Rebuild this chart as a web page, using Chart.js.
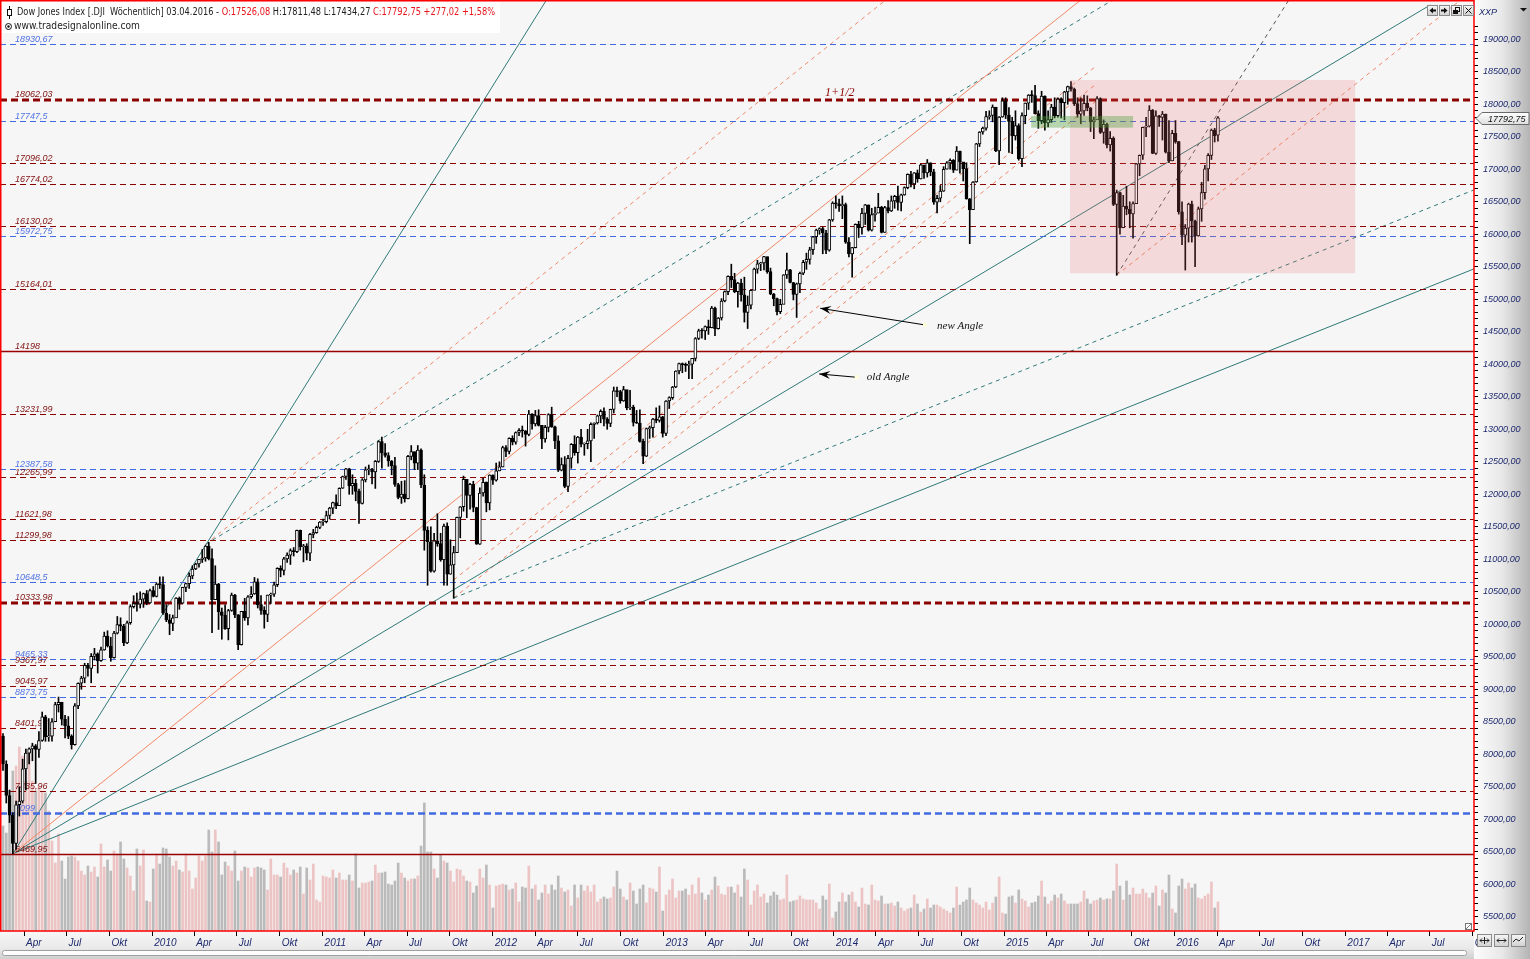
<!DOCTYPE html>
<html>
<head>
<meta charset="utf-8">
<title>Dow Jones Index weekly</title>
<script src="https://cdn.jsdelivr.net/npm/chart.js@4.4.1/dist/chart.umd.min.js"></script>
<style>
  html, body { margin: 0; padding: 0; background: #ededed; }
  canvas { display: block; }
</style>
</head>
<body>
<canvas id="djiChart" width="1530" height="959"></canvas>
<script>
// weekly bars, each one dated on the Sunday that closes its week
const firstWeek = '2009-02-15';

const weekOpen = [
  8280,7850,7366,7063,6627,7224,7278,7776,8018,8083,8131,8076,8212,8575,8268,8278,8500,8764,8799,8540,8438,8280,8146,8744,9093,9172,9370,9321,9505,9544,9441,9605,9820,9666,9488,9865,9996,9972,9713,10023,10271,10318,10310,10388,10471,10329,
  10520,10428,10618,10610,10173,10067,10012,10099,10402,10325,10567,10625,10742,10850,10927,10998,11019,11204,11009,10380,10620,10193,10137,9932,10212,10450,10144,9686,10198,10098,10424,10466,10653,10303,10213,10150,10448,10462,10608,10860,10830,11006,11063,11133,11118,11445,11192,11204,11092,11382,11410,11491,11573,
  11578,11674,11787,11871,11823,12092,12273,12391,12130,12170,12044,11859,12221,12377,12380,12342,12506,12811,12638,12596,12512,12441,12151,11952,12004,11934,12582,12657,12479,12681,12143,11445,11270,10817,11285,11240,10993,11510,10772,10913,11103,11644,11808,12231,11983,12153,11796,11231,12019,12184,11866,12294,
  12218,12360,12422,12720,12660,12862,12801,12950,12983,12978,12922,13232,13081,13212,13060,12850,13029,13228,13038,12821,12369,12455,12119,12554,12767,12640,12880,12772,12777,12822,13075,13096,13207,13275,13157,13090,13306,13593,13579,13437,13610,13328,13343,13107,13093,12815,12588,13010,13026,13155,13135,13190,
  12938,13435,13488,13650,13896,14009,13993,13982,14001,14090,14397,14515,14512,14579,14565,14865,14548,14712,14974,15118,15354,15303,15116,15248,15070,14799,14910,15136,15464,15544,15559,15658,15425,15081,15010,14810,14922,15376,15452,15258,15073,15237,15400,15570,15615,15762,15962,16065,16086,16020,15755,16221,
  16479,16469,16437,16458,15879,15699,15794,16154,16103,16322,16453,16065,16303,16323,16413,16027,16409,16361,16513,16583,16491,16606,16717,16924,16776,16947,16851,17068,16944,17100,16961,16493,16554,16663,17001,17098,17138,16988,17280,17113,17009,16544,16380,16805,17391,17573,17634,17810,17828,17958,17281,17805,
  18053,17833,17737,17512,17673,17165,17825,18019,18140,18133,17857,17749,18128,17713,17763,17958,17826,18080,18024,18191,18272,18232,18010,17849,17898,18016,17947,17730,17760,18086,17569,17690,17373,17477,16460,16643,16102,16433,16385,16315,16472,17084,17216,17647,17664,17910,17245,17824,17798,17848,17265,17128,17552,
  17425,16347,15988,16094,16466,16205,15974,16392,16640,17007,17213,17602,17526
];
const weekHigh = [
  8320,7900,7450,7100,7280,7500,7925,8080,8100,8170,8150,8350,8650,8600,8550,8550,8800,8880,8800,8600,8580,8300,8780,9100,9200,9400,9400,9550,9630,9560,9650,9880,9900,9800,9890,10120,10100,10000,10050,10300,10440,10480,10500,10480,10520,10540,
  10580,10640,10730,10730,10300,10150,10140,10410,10420,10570,10630,10790,10900,10940,11000,11150,11210,11260,11160,10900,10630,10250,10300,10230,10480,10460,10150,10200,10400,10440,10580,10720,10700,10440,10270,10450,10480,10650,10870,10900,11030,11100,11160,11180,11450,11450,11230,11240,11400,11460,11510,11580,11620,
  11740,11800,11880,11990,12100,12280,12400,12400,12300,12230,12080,12240,12420,12450,12400,12520,12820,12880,12780,12640,12520,12570,12170,12200,12210,12600,12750,12650,12750,12700,12300,11500,11500,11400,11700,11400,11540,11560,11300,11200,11650,11810,12280,12230,12170,12200,11800,12100,12250,12190,12300,12300,
  12480,12500,12740,12750,12870,12900,12960,13010,13050,12980,13290,13240,13290,13300,13060,13060,13240,13340,13050,12900,12560,12580,12600,12780,12900,12890,13000,12790,13000,13100,13100,13220,13300,13330,13180,13310,13650,13650,13600,13660,13600,13600,13370,13290,13300,12850,13020,13050,13170,13330,13360,13200,
  13440,13500,13660,13900,14020,14020,14020,14050,14090,14410,14540,14550,14590,14680,14890,14880,14720,15010,15130,15360,15540,15400,15260,15310,15340,15050,15140,15480,15600,15570,15660,15650,15480,15090,15020,15000,15380,15710,15460,15260,15250,15420,15600,15710,15800,15970,16080,16100,16110,16060,16230,16500,
  16590,16540,16590,16480,15950,15800,16160,16200,16400,16460,16450,16400,16420,16630,16430,16430,16520,16590,16600,16740,16620,16730,16930,16970,16950,16990,17080,17060,17150,17100,17000,16600,16750,17040,17120,17160,17150,17350,17280,17100,17100,16550,16810,17400,17580,17650,17890,17900,17990,17950,17810,18100,
  18100,17950,17800,17900,17700,17870,18020,18150,18210,18290,17900,18200,18130,17900,18000,18100,18100,18100,18200,18280,18350,18250,18100,18100,18140,18130,17950,17800,18120,18100,17760,17710,17580,17500,16680,16650,16600,16740,16500,16500,17090,17220,17650,17800,17980,17920,17900,17830,17890,17850,17750,17600,17750,
  17430,16500,16150,16480,16510,16220,16420,16800,17060,17240,17620,17630,17811
];
const weekLow = [
  7750,7250,6950,6470,6540,7050,7250,7450,7850,7900,7550,7950,8200,8200,8200,8200,8500,8650,8450,8250,8240,8080,8140,8700,9000,9100,9200,9100,9450,9250,9430,9600,9650,9430,9480,9850,9900,9670,9700,10000,10250,10200,10250,10260,10300,10320,
  10420,10420,10550,10150,10040,9840,9900,10100,10230,10320,10500,10550,10700,10840,10880,10950,10970,10990,9870,10380,9920,9770,9920,9760,10200,10100,9610,9680,10060,9990,10400,10460,10250,10150,9940,10040,10320,10430,10580,10730,10760,10950,10920,11050,11100,11140,10960,10990,10980,11330,11400,11470,11520,
  11560,11620,11700,11780,11830,12090,12230,12000,12000,11900,11550,11850,12190,12300,12160,12090,12490,12400,12570,12430,12300,12120,11930,11860,11880,11930,12530,12380,12380,12100,11140,10600,10800,10800,11200,10970,10600,10600,10770,10400,11100,11330,11740,11640,11770,11730,11230,11230,11970,11730,11760,12150,
  12200,12360,12420,12580,12620,12760,12770,12900,12880,12740,12900,13000,13050,13050,12700,12800,12960,13030,12700,12350,12360,12100,12040,12400,12600,12480,12730,12600,12700,12500,12860,13080,13100,13050,13000,13040,13250,13500,13400,13430,13300,13300,13050,13090,12800,12470,12580,12860,12880,13100,13110,12880,
  12900,13320,13460,13640,13850,13870,13890,13780,13780,14050,14380,14400,14380,14460,14560,14440,14540,14680,14960,15070,15180,15100,14880,14970,14650,14550,14850,15150,15400,15440,15450,15400,15070,14900,14760,14780,14930,15320,15250,14990,14720,15100,15380,15460,15540,15690,15860,16000,15700,15700,15740,16200,
  16400,16350,16240,15860,15650,15340,15790,15950,16000,16150,16050,16050,16200,16330,16020,16030,16330,16350,16400,16370,16360,16600,16700,16730,16700,16800,16850,16860,16880,16900,16460,16330,16500,16660,17000,17000,16950,16990,16940,16820,16540,15855,16380,16800,17350,17540,17600,17770,17730,17270,17070,17800,
  17780,17260,17240,17450,17140,17040,17700,17920,18030,17850,17630,17700,17600,17650,17720,17790,17800,17790,17760,18000,18200,17980,17800,17700,17830,17900,17580,17470,17790,17550,17400,17330,17280,16440,15370,16000,16100,16300,16100,15940,16480,16900,17150,17500,17650,17240,17230,17660,17450,17250,17100,17130,17400,
  16310,15840,15450,15880,15880,15500,15970,16200,16540,16820,17150,17420,17434
];
const weekClose = [
  7850,7366,7063,6627,7224,7278,7776,8018,8083,8131,8076,8212,8575,8268,8278,8500,8764,8799,8540,8438,8280,8146,8744,9093,9172,9370,9321,9505,9544,9441,9605,9820,9666,9488,9865,9996,9972,9713,10023,10271,10318,10310,10388,10471,10329,10520,
  10428,10618,10610,10173,10067,10012,10099,10402,10325,10567,10625,10742,10850,10927,10998,11019,11204,11009,10380,10620,10193,10137,9932,10212,10450,10144,9686,10198,10098,10424,10466,10653,10303,10213,10150,10448,10462,10608,10860,10830,11006,11063,11133,11118,11445,11192,11204,11092,11382,11410,11491,11573,11578,
  11674,11787,11871,11823,12092,12273,12391,12130,12170,12044,11859,12221,12377,12380,12342,12506,12811,12638,12596,12512,12441,12151,11952,12004,11934,12582,12657,12479,12681,12143,11445,11270,10817,11285,11240,10993,11510,10772,10913,11103,11644,11808,12231,11983,12153,11796,11231,12019,12184,11866,12294,12218,
  12360,12422,12720,12660,12862,12801,12950,12983,12978,12922,13232,13081,13212,13060,12850,13029,13228,13038,12821,12369,12455,12119,12554,12767,12640,12880,12772,12777,12822,13075,13096,13207,13275,13157,13090,13306,13593,13579,13437,13610,13328,13343,13107,13093,12815,12588,13010,13026,13155,13135,13190,12938,
  13435,13488,13650,13896,14009,13993,13982,14001,14090,14397,14515,14512,14579,14565,14865,14548,14712,14974,15118,15354,15303,15116,15248,15070,14799,14910,15136,15464,15544,15559,15658,15425,15081,15010,14810,14922,15376,15452,15258,15073,15237,15400,15570,15615,15762,15962,16065,16086,16020,15755,16221,16479,
  16469,16437,16458,15879,15699,15794,16154,16103,16322,16453,16065,16303,16323,16413,16027,16409,16361,16513,16583,16491,16606,16717,16924,16776,16947,16851,17068,16944,17100,16961,16493,16554,16663,17001,17098,17138,16988,17280,17113,17009,16544,16380,16805,17391,17573,17634,17810,17828,17958,17281,17805,18053,
  17833,17737,17512,17673,17165,17825,18019,18140,18133,17857,17749,18128,17713,17763,17958,17826,18080,18024,18191,18272,18232,18010,17849,17898,18016,17947,17730,17760,18086,17569,17690,17373,17477,16460,16643,16102,16433,16385,16315,16472,17084,17216,17647,17664,17910,17245,17824,17798,17848,17265,17128,17552,17425,
  16347,15988,16094,16466,16205,15974,16392,16640,17007,17213,17602,17516,17793
];
// weekly volume, millions of shares
const weekVolume = [
  1050,980,1400,1600,1650,1840,1750,1500,1800,1500,1400,1450,1400,1380,1200,
  900,680,970,700,520,740,750,740,700,600,560,650,590,640,540,870,640,710,600,800,
  770,890,720,630,550,400,820,650,810,300,290,620,770,670,830,820,740,650,700,610,
  590,770,600,420,530,750,700,750,1010,790,1010,890,560,690,650,600,800,500,600,640,
  630,540,630,640,630,610,410,720,560,560,540,680,630,560,610,580,640,370,630,510,
  670,310,290,550,540,530,610,530,580,510,510,560,500,770,430,480,480,490,500,660,
  580,580,590,470,460,500,680,580,530,500,520,520,550,850,1280,790,790,620,530,760,
  700,680,600,490,620,610,550,500,490,380,450,620,530,660,460,230,450,460,470,460,
  410,420,480,290,440,430,650,420,460,310,380,460,370,460,410,550,430,390,410,250,
  460,330,460,400,450,390,460,290,320,340,320,330,
  440,600,420,340,310,480,400,270,420,460,280,430,420,390,640,200,360,410,520,330,
  400,400,420,360,460,370,530,380,310,360,410,540,450,370,360,440,440,380,460,340,
  620,510,260,400,460,340,370,280,350,390,360,310,320,560,290,300,310,350,320,310,
  310,310,280,220,350,310,470,130,190,290,380,290,360,390,290,240,430,270,260,460,
  310,300,350,270,270,280,250,290,230,200,220,230,360,270,190,220,320,230,260,260,
  240,220,200,180,230,440,260,290,310,430,310,280,260,230,290,210,280,340,540,180,
  170,340,350,280,410,320,300,240,280,290,350,500,340,270,300,360,330,370,300,270,
  270,270,270,290,400,320,270,300,310,330,310,320,320,400,670,450,310,500,360,430,
  370,370,420,380,330,380,450,250,410,380,560,220,180,450,520,420,480,430,470,330,
  320,350,370,490,230,290
];

// horizontal price levels drawn across the chart
const levelValues = [18930.67,18062.03,17747.5,17096.02,16774.02,16130.02,15972.75,15164.01,14198,13231.99,12387.58,12265.99,11621.98,11299.98,10648.5,10333.98,9465.33,9367.97,9045.97,8873.75,8401.96,7435.96,7099,6469.95];
const levelLabels = ['18930,67','18062,03','17747,5','17096,02','16774,02','16130,02','15972,75','15164,01','14198','13231,99','12387,58','12265,99','11621,98','11299,98','10648,5','10333,98','9465,33','9367,97','9045,97','8873,75','8401,96','7435,96','7099','6469,95'];
const levelKinds = ['blue','thick','blue','red','red','red','blue','red','solid','red','blue','red','red','red','blue','thick','blue','red','red','blue','red','red','blueThick','solid'];

// trend lines: [from week, from price, to week, to price]
const trendLines = [
  [3,6470,166.4,19605],
  [3,6470,330,19605],
  [3,6470,437,19528],
  [3,6470,451,15480],
  [62,11230,270.3,19605],
  [62,11230,339.8,19605],
  [138,10404,451,16695],
  [138,10404,335,18323],
  [138,10682,335,18601],
  [196,12471,335,18059],
  [341,15370,446.3,19605],
  [341,15370,393.7,19605]
];
const trendKinds = ['teal','orange','teal','teal','orangeDash','tealDash','tealDash','orangeDash','orangeDash','orangeDash','orangeDash','grayDash'];

// boxes: [from week, to week, low price, high price]
const rangeBox = [326.7, 414, 15400, 18374];
const congestionBox = [314.8, 346, 17640, 17820];

const arrowNotes = [
  { text: 'new Angle', tail: [282.3, 14605], tip: [250.2, 14862], at: [286, 14590] },
  { text: 'old Angle', tail: [261.4, 13800], tip: [249.9, 13851], at: [264.5, 13805] }
];
const levelNote = { text: '1+1/2', at: [251.7, 18174] };

const quarterNames = ['', 'Apr', 'Jul', 'Okt'];   // January shows the year
const visibleWeeks = [-0.92, 450.4];
const priceRange = [5281, 19589];
const priceTicks = { from: 5300, to: 19200, step: 100, labelEvery: 500, labelTo: 19000 };

const titleParts = [
  ['Dow Jones Index [.DJI  W\u00f6chentlich] 03.04.2016 - ', '#222'],
  ['O:17526,08 ', '#e8141a'],
  ['H:17811,48 L:17434,27 ', '#222'],
  ['C:17792,75 +277,02 +1,58%', '#e8141a']
];
const lastPriceText = '17792,75';

if (weekOpen.length !== 373 || weekHigh.length !== 373 || weekLow.length !== 373 ||
    weekClose.length !== 373 || weekVolume.length !== 373) {
  throw new Error('length ' + [weekOpen.length, weekHigh.length, weekLow.length, weekClose.length, weekVolume.length].join(','));
}

const t0 = Date.parse(firstWeek);
const weekOf = (y, m, d) => (Date.UTC(y, m, d) - t0) / (7 * 864e5);
const quarterTicks = [];
for (let y = 2009; y <= 2017; y++) {
  for (let q = 0; q < 4; q++) {
    const v = weekOf(y, q * 3, 1);
    if (v > visibleWeeks[0] && v < visibleWeeks[1]) {
      quarterTicks.push({ value: v, label: q ? quarterNames[q] : String(y) });
    }
  }
}

const levelStyles = {
  blue:      { color: '#4169e1', width: 1,   dash: [6, 4], label: '#4f72e3' },
  blueThick: { color: '#4169e1', width: 2.5, dash: [7, 4], label: '#4f72e3' },
  red:       { color: '#8b0000', width: 1,   dash: [6, 4], label: '#801010' },
  thick:     { color: '#8b0000', width: 3,   dash: [7, 4], label: '#801010' },
  solid:     { color: '#9a0000', width: 1.4, dash: [],     label: '#801010' }
};
const trendStyles = {
  teal:       { color: '#2f7a78', dash: [] },
  orange:     { color: '#f08868', dash: [] },
  tealDash:   { color: '#2f7a78', dash: [4, 4] },
  orangeDash: { color: '#f08868', dash: [4, 4] },
  grayDash:   { color: '#555555', dash: [4, 4] }
};

const weeks = weekClose.map((_, i) => i);
const isUp = weekClose.map((c, i) => c >= weekOpen[i]);

const datasets = [
  {
    type: 'bar', label: 'Volume', yAxisID: 'yv', order: 10, grouped: false, barThickness: 2,
    data: weeks.map(i => ({ x: i, y: weekVolume[i] })),
    backgroundColor: isUp.map(u => u ? '#ecc4c4' : '#bababa')
  },
  ...trendLines.map((t, k) => ({
    type: 'line', label: 'trend' + k, yAxisID: 'y', order: 5,
    data: [{ x: t[0], y: t[1] }, { x: t[2], y: t[3] }],
    borderColor: trendStyles[trendKinds[k]].color,
    borderDash: trendStyles[trendKinds[k]].dash,
    borderWidth: 1, pointRadius: 0, fill: false, tension: 0
  })),
  {
    type: 'bar', label: 'Wick', yAxisID: 'y', order: 1, grouped: false, barThickness: 1,
    data: weeks.map(i => ({ x: i, y: [weekLow[i], weekHigh[i]] })),
    backgroundColor: '#000'
  },
  {
    type: 'bar', label: 'Body', yAxisID: 'y', order: 0, grouped: false, barThickness: 3,
    minBarLength: 1, borderWidth: 1, borderColor: '#000', borderSkipped: false,
    data: weeks.map(i => ({ x: i, y: [weekOpen[i], weekClose[i]] })),
    backgroundColor: isUp.map(u => u ? '#fff' : '#000')
  }
];
const wickIndex = datasets.findIndex(d => d.label === 'Wick');

function drawLevels(chart) {
  const { ctx, chartArea: a, scales: { y } } = chart;
  ctx.save();
  ctx.beginPath();
  ctx.rect(a.left, a.top, a.right - a.left, a.bottom - a.top);
  ctx.clip();
  ctx.font = 'italic 9px "Liberation Sans"';
  levelValues.forEach((v, k) => {
    const s = levelStyles[levelKinds[k]];
    const py = Math.round(y.getPixelForValue(v)) + (s.width === 3 ? 0 : 0.5);
    ctx.strokeStyle = s.color;
    ctx.lineWidth = s.width;
    ctx.setLineDash(s.dash);
    ctx.beginPath();
    ctx.moveTo(a.left, py);
    ctx.lineTo(a.right, py);
    ctx.stroke();
    ctx.setLineDash([]);
    ctx.fillStyle = s.label;
    ctx.fillText(levelLabels[k], 15, py - 3);
  });
  ctx.restore();
}

function drawArrow(ctx, x1, y1, x2, y2) {
  ctx.beginPath();
  ctx.moveTo(x1, y1);
  ctx.lineTo(x2, y2);
  ctx.stroke();
  const ang = Math.atan2(y2 - y1, x2 - x1);
  const c = Math.cos(ang), s = Math.sin(ang);
  ctx.beginPath();
  ctx.moveTo(x2, y2);
  ctx.lineTo(x2 - 11 * c + 4 * s, y2 - 11 * s - 4 * c);
  ctx.lineTo(x2 - 7 * c, y2 - 7 * s);
  ctx.lineTo(x2 - 11 * c - 4 * s, y2 - 11 * s + 4 * c);
  ctx.closePath();
  ctx.fill();
  ctx.fillStyle = '#ffffdc';
  ctx.fillRect(x1 - 2, y1 - 2, 4, 4);
  ctx.fillStyle = '#000';
}

function fitText(ctx, parts, x, y, width) {
  const total = parts.reduce((w, p) => w + ctx.measureText(p[0]).width, 0);
  ctx.save();
  ctx.translate(x, y);
  ctx.scale(width / total, 1);
  let cx = 0;
  parts.forEach(p => {
    ctx.fillStyle = p[1];
    ctx.fillText(p[0], cx, 0);
    cx += ctx.measureText(p[0]).width;
  });
  ctx.restore();
}

function button(ctx, x, y, w, h) {
  const g = ctx.createLinearGradient(0, y, 0, y + h);
  g.addColorStop(0, '#f8f8f8');
  g.addColorStop(1, '#cfcfcf');
  ctx.fillStyle = g;
  ctx.fillRect(x, y, w, h);
  ctx.strokeStyle = '#8a8a8a';
  ctx.lineWidth = 1;
  ctx.strokeRect(x + 0.5, y + 0.5, w - 1, h - 1);
}

const decorations = {
  id: 'decorations',
  beforeDraw(chart) {
    const { ctx, chartArea: a, width, height } = chart;
    ctx.save();
    ctx.fillStyle = '#ededed';
    ctx.fillRect(0, 0, width, height);
    const gr = ctx.createLinearGradient(a.right, 0, width, 0);
    gr.addColorStop(0, '#fcfcfc');
    gr.addColorStop(0.5, '#e8e8e8');
    gr.addColorStop(1, '#b4b4b4');
    ctx.fillStyle = gr;
    ctx.fillRect(a.right, 0, width - a.right, height);
    const gb = ctx.createLinearGradient(0, a.bottom, 0, height);
    gb.addColorStop(0, '#f7f7f7');
    gb.addColorStop(0.6, '#eaeaea');
    gb.addColorStop(1, '#cfcfcf');
    ctx.fillStyle = gb;
    ctx.fillRect(0, a.bottom, a.right, height - a.bottom);
    ctx.fillStyle = '#fdfdfd';
    ctx.strokeStyle = '#a0a0a0';
    ctx.lineWidth = 1;
    ctx.beginPath();
    ctx.roundRect(2.5, 950.5, a.right - 10, 5, 2);
    ctx.fill();
    ctx.stroke();
    ctx.fillStyle = '#f6f6f6';
    ctx.fillRect(a.left, a.top, a.right - a.left, a.bottom - a.top);
    ctx.fillStyle = '#ffffff';
    ctx.fillRect(2, 2, 498, 31);
    ctx.restore();
  },
  beforeDatasetDraw(chart, args) {
    if (args.index === wickIndex) drawLevels(chart);
  },
  afterDatasetsDraw(chart) {
    const { ctx, chartArea: a, scales: { x, y } } = chart;
    ctx.save();
    ctx.beginPath();
    ctx.rect(a.left, a.top, a.right - a.left, a.bottom - a.top);
    ctx.clip();
    const box = (b, fill) => {
      const x1 = x.getPixelForValue(b[0]), x2 = x.getPixelForValue(b[1]);
      const y1 = y.getPixelForValue(b[3]), y2 = y.getPixelForValue(b[2]);
      ctx.fillStyle = fill;
      ctx.fillRect(x1, y1, x2 - x1, y2 - y1);
    };
    box(rangeBox, 'rgba(236,106,106,0.2)');
    box(congestionBox, 'rgba(80,160,60,0.38)');

    ctx.strokeStyle = '#000';
    ctx.fillStyle = '#000';
    ctx.lineWidth = 1;
    ctx.font = 'italic 11px "Liberation Serif"';
    ctx.textBaseline = 'middle';
    arrowNotes.forEach(n => {
      drawArrow(ctx, x.getPixelForValue(n.tail[0]), y.getPixelForValue(n.tail[1]),
        x.getPixelForValue(n.tip[0]), y.getPixelForValue(n.tip[1]));
      ctx.fillStyle = '#111';
      ctx.fillText(n.text, x.getPixelForValue(n.at[0]), y.getPixelForValue(n.at[1]));
      ctx.fillStyle = '#000';
    });
    ctx.font = 'italic 12px "Liberation Serif"';
    ctx.fillStyle = '#8b0000';
    ctx.fillText(levelNote.text, x.getPixelForValue(levelNote.at[0]), y.getPixelForValue(levelNote.at[1]));
    ctx.restore();
  },
  afterDraw(chart) {
    const { ctx, chartArea: a, scales: { y } } = chart;
    ctx.save();
    // plot frame
    ctx.strokeStyle = '#ff0000';
    ctx.lineWidth = 1.5;
    ctx.strokeRect(a.left + 0.75, 0.75, a.right - a.left - 0.75, a.bottom - 0.75);

    // resize grip
    ctx.fillStyle = '#fff';
    ctx.fillRect(a.right - 9, a.bottom - 8, 7, 7);
    ctx.strokeStyle = '#777';
    ctx.lineWidth = 1;
    ctx.strokeRect(a.right - 8.5, a.bottom - 7.5, 6, 6);
    ctx.beginPath();
    ctx.moveTo(a.right - 8, a.bottom - 2);
    ctx.lineTo(a.right - 3, a.bottom - 7);
    ctx.stroke();

    // title
    ctx.textBaseline = 'middle';
    ctx.font = '10px "DejaVu Sans"';
    fitText(ctx, titleParts, 17, 12.5, 478);
    fitText(ctx, [['www.tradesignalonline.com', '#222']], 14, 26.5, 126);
    ctx.strokeStyle = '#111';
    ctx.lineWidth = 1;
    ctx.beginPath();
    ctx.moveTo(9.5, 6);
    ctx.lineTo(9.5, 19);
    ctx.stroke();
    ctx.fillStyle = '#fff';
    ctx.fillRect(7, 9, 5, 7);
    ctx.strokeRect(7.5, 9.5, 4, 6);
    ctx.beginPath();
    ctx.arc(8.5, 26.5, 3, 0, Math.PI * 2);
    ctx.stroke();
    ctx.fillStyle = '#111';
    ctx.beginPath();
    ctx.arc(8.5, 26.5, 1.2, 0, Math.PI * 2);
    ctx.fill();

    // navigation buttons
    [1427, 1439, 1451, 1463].forEach((bx, k) => {
      button(ctx, bx, 5, 11, 11);
      ctx.fillStyle = '#111';
      ctx.strokeStyle = '#111';
      ctx.beginPath();
      if (k === 0) { ctx.moveTo(bx + 2.5, 10.5); ctx.lineTo(bx + 6, 7.5); ctx.lineTo(bx + 6, 13.5); ctx.closePath(); ctx.fill(); ctx.fillRect(bx + 6, 9.5, 3, 2); }
      if (k === 1) { ctx.moveTo(bx + 8.5, 10.5); ctx.lineTo(bx + 5, 7.5); ctx.lineTo(bx + 5, 13.5); ctx.closePath(); ctx.fill(); ctx.fillRect(bx + 2, 9.5, 3, 2); }
      if (k === 2) { ctx.strokeRect(bx + 4.5, 3 + 4.5, 4, 4); ctx.fillRect(bx + 2, 10, 5, 4); }
      if (k === 3) { ctx.moveTo(bx + 2.5, 7.5); ctx.lineTo(bx + 8.5, 13.5); ctx.moveTo(bx + 8.5, 7.5); ctx.lineTo(bx + 2.5, 13.5); ctx.stroke(); }
    });

    // right axis header
    ctx.fillStyle = '#1e2a6e';
    ctx.font = 'italic 9px "Liberation Sans"';
    ctx.fillText('XXP', a.right + 5, 12);
    ctx.fillStyle = '#111';
    ctx.beginPath();
    ctx.moveTo(1520, 8);
    ctx.lineTo(1527, 8);
    ctx.lineTo(1523.5, 11.5);
    ctx.closePath();
    ctx.fill();

    // last price marker
    const py = Math.round(y.getPixelForValue(weekClose[weekClose.length - 1])) + 0.5;
    const gp = ctx.createLinearGradient(0, py - 6, 0, py + 6);
    gp.addColorStop(0, '#ffffff');
    gp.addColorStop(1, '#dedede');
    ctx.fillStyle = gp;
    ctx.strokeStyle = '#6a6a6a';
    ctx.beginPath();
    ctx.moveTo(a.right + 2, py);
    ctx.lineTo(a.right + 8, py - 6);
    ctx.lineTo(1529, py - 6);
    ctx.lineTo(1529, py + 6);
    ctx.lineTo(a.right + 8, py + 6);
    ctx.closePath();
    ctx.fill();
    ctx.stroke();
    ctx.fillStyle = '#111';
    ctx.fillText(lastPriceText, a.right + 14, py + 0.5);

    // bottom corner buttons
    [1477, 1494, 1511].forEach((bx, k) => {
      button(ctx, bx, 934, 15, 13);
      ctx.strokeStyle = '#222';
      ctx.beginPath();
      if (k < 2) {
        ctx.moveTo(bx + 3, 940.5); ctx.lineTo(bx + 12, 940.5);
        ctx.moveTo(bx + 5, 938.5); ctx.lineTo(bx + 3, 940.5); ctx.lineTo(bx + 5, 942.5);
        ctx.moveTo(bx + 10, 938.5); ctx.lineTo(bx + 12, 940.5); ctx.lineTo(bx + 10, 942.5);
        if (k === 0) { ctx.moveTo(bx + 7.5, 937); ctx.lineTo(bx + 7.5, 944); }
      } else {
        ctx.moveTo(bx + 2, 942); ctx.lineTo(bx + 5, 939); ctx.lineTo(bx + 8, 941); ctx.lineTo(bx + 12, 937);
      }
      ctx.stroke();
    });
    ctx.restore();
  }
};

const zeroPadding = s => { s.paddingLeft = 0; s.paddingRight = 0; s.paddingTop = 0; s.paddingBottom = 0; };

new Chart(document.getElementById('djiChart').getContext('2d'), {
  type: 'bar',
  data: { datasets },
  options: {
    responsive: false,
    animation: false,
    events: [],
    layout: { padding: { top: 1, left: 0, right: 0, bottom: 0 } },
    plugins: { legend: { display: false }, tooltip: { enabled: false } },
    scales: {
      x: {
        type: 'linear', offset: false, bounds: 'data',
        min: visibleWeeks[0], max: visibleWeeks[1],
        afterBuildTicks: s => { s.ticks = quarterTicks.map(q => ({ value: q.value })); },
        afterFit: s => { s.height = 28; zeroPadding(s); },
        grid: { offset: false, drawOnChartArea: false, drawTicks: true, tickLength: 5, color: '#000' },
        border: { display: false },
        ticks: {
          autoSkip: false, maxRotation: 0, minRotation: 0, align: 'start', padding: 1, labelOffset: 2,
          color: '#1e2a6e', font: { family: 'Liberation Sans', style: 'italic', size: 10 },
          callback: (v, i) => quarterTicks[i] ? quarterTicks[i].label : ''
        }
      },
      y: {
        type: 'linear', position: 'right', bounds: 'data',
        min: priceRange[0], max: priceRange[1],
        afterBuildTicks: s => {
          const t = [];
          for (let v = priceTicks.from; v <= priceTicks.to; v += priceTicks.step) t.push({ value: v });
          s.ticks = t;
        },
        afterFit: s => { s.width = 56; zeroPadding(s); },
        grid: { drawOnChartArea: false, drawTicks: true, tickLength: 4, color: '#000' },
        border: { display: false },
        ticks: {
          autoSkip: false, padding: 5,
          color: '#1e2a6e', font: { family: 'Liberation Sans', style: 'italic', size: 9 },
          callback: v => (v % priceTicks.labelEvery === 0 && v <= priceTicks.labelTo)
            ? v.toFixed(2).replace('.', ',') : ''
        }
      },
      yv: { type: 'linear', display: false, min: 0, max: 9300 }
    }
  },
  plugins: [decorations]
});
</script>
</body>
</html>
